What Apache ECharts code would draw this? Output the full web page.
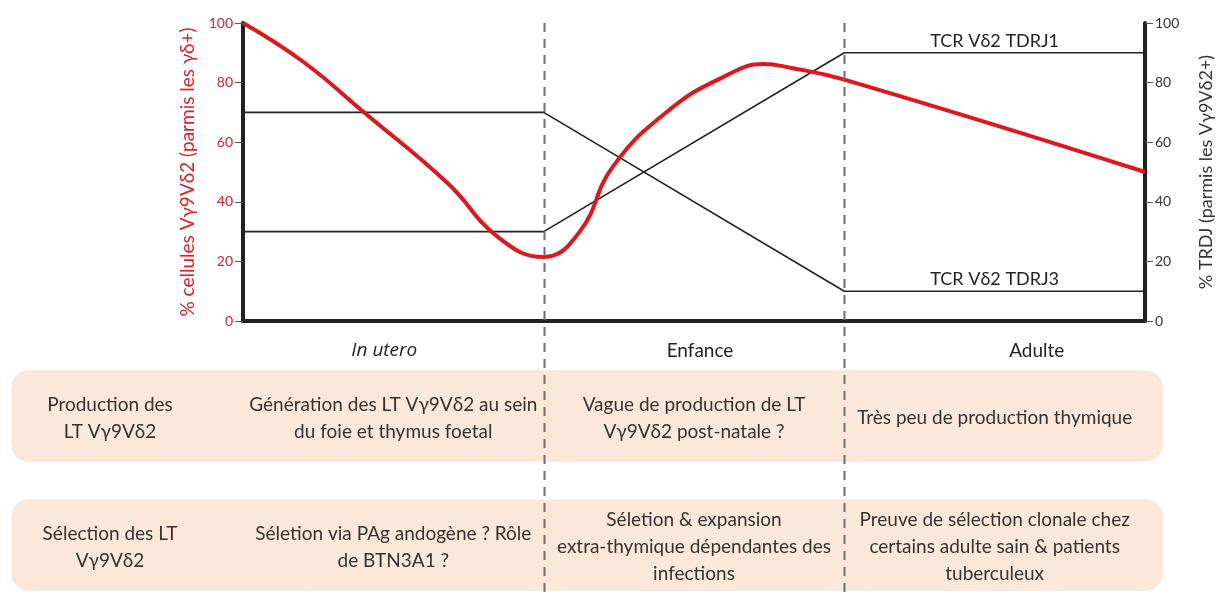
<!DOCTYPE html>
<html>
<head>
<meta charset="utf-8">
<script src="https://cdn.jsdelivr.net/npm/echarts@6/dist/echarts.min.js"></script>
<style>
html,body{margin:0;padding:0;background:#fff;}
#main{width:1223px;height:594px;}
</style>
</head>
<body>
<div id="main"></div>
<script>
// ---- data ----
const periods = ['In utero', 'Enfance', 'Adulte'];
const leftTicks = [0, 20, 40, 60, 80, 100];
const rightTicks = [0, 20, 40, 60, 80, 100];
// red curve: [time position (0..3 across the three periods), % cells]
const redX = [0, 0.2, 0.4, 0.68, 0.85, 1.0, 1.12, 1.23, 1.42, 1.6, 1.73, 1.82, 2.0, 3.0];
const redY = [100, 87, 70.2, 46.3, 28, 21.5, 30, 51.8, 71, 82, 86.2, 85, 81, 50];
const trdjX = [0, 1, 2, 2.5, 3];
const trdj1 = [30, 30, 90, 90, 90];
const trdj3 = [70, 70, 10, 10, 10];
const trdjNames = ['TCR V\u03b42 TDRJ1', 'TCR V\u03b42 TDRJ3'];
const leftAxisName = '% cellules V\u03b39V\u03b42 (parmis les \u03b3\u03b4+)';
const rightAxisName = '% TRDJ (parmis les V\u03b39V\u03b42+)';
const rowTitles = ['Production des\nLT V\u03b39V\u03b42', 'S\u00e9lection des LT\nV\u03b39V\u03b42'];
const rowProduction = [
  'G\u00e9n\u00e9ration des LT V\u03b39V\u03b42 au sein\ndu foie et thymus foetal',
  'Vague de production de LT\nV\u03b39V\u03b42 post-natale ?',
  'Tr\u00e8s peu de production thymique'
];
const rowSelection = [
  'S\u00e9letion via PAg andog\u00e8ne ? R\u00f4le\nde BTN3A1 ?',
  'S\u00e9letion & expansion\nextra-thymique d\u00e9pendantes des\ninfections',
  'Preuve de s\u00e9lection clonale chez\ncertains adulte sain & patients\ntuberculeux'
];

const FONT = 'Lato';
const RED = '#e0161c';
const RED_TXT = '#d8232a';
const DARK = '#222';

const chart = echarts.init(document.getElementById('main'), null, {renderer: 'canvas'});

function pts(xs, ys) { return xs.map((x, i) => [x, ys[i]]); }
function labelled(xs, ys, name) {
  return pts(xs, ys).map((p, i) => i === 3 ?
    {value: p, label: {show: true, position: 'top', distance: 3, formatter: name,
      color: DARK, fontSize: 18, fontFamily: FONT}} : p);
}

const option = {
  animation: false,
  textStyle: {fontFamily: FONT},
  grid: {left: 243, right: 77, top: 23, bottom: 273, containLabel: false},
  xAxis: {
    type: 'value', min: 0, max: 3, interval: 1,
    axisLine: {show: true, onZero: false, lineStyle: {color: DARK, width: 4}},
    axisTick: {show: false}, axisLabel: {show: false}, splitLine: {show: false}
  },
  yAxis: [
    {
      type: 'value', min: 0, max: 100, interval: 20, position: 'left',
      name: leftAxisName, nameLocation: 'middle', nameGap: 45, nameRotate: 90,
      nameTextStyle: {color: RED_TXT, fontSize: 19, fontFamily: FONT},
      axisLine: {show: true, lineStyle: {color: DARK, width: 4}},
      axisTick: {show: true, length: 8, lineStyle: {color: '#555', width: 1}},
      axisLabel: {color: RED_TXT, fontSize: 14, margin: 10, fontFamily: FONT,
        formatter: v => leftTicks.includes(v) ? String(v) : ''},
      splitLine: {show: false}
    },
    {
      type: 'value', min: 0, max: 100, interval: 20, position: 'right',
      name: rightAxisName, nameLocation: 'middle', nameGap: 52, nameRotate: 90,
      nameTextStyle: {color: '#333', fontSize: 18, fontFamily: FONT},
      axisLine: {show: true, lineStyle: {color: DARK, width: 4}},
      axisTick: {show: true, length: 8, lineStyle: {color: '#555', width: 1}},
      axisLabel: {color: '#333', fontSize: 14, margin: 10, fontFamily: FONT,
        formatter: v => rightTicks.includes(v) ? String(v) : ''},
      splitLine: {show: false}
    }
  ],
  series: [
    {
      type: 'line', yAxisIndex: 1, data: labelled(trdjX, trdj1, trdjNames[0]),
      showSymbol: true, symbol: 'circle', symbolSize: 0.01, label: {show: false},
      lineStyle: {color: DARK, width: 1.6}, z: 2
    },
    {
      type: 'line', yAxisIndex: 1, data: labelled(trdjX, trdj3, trdjNames[1]),
      showSymbol: true, symbol: 'circle', symbolSize: 0.01, label: {show: false},
      lineStyle: {color: DARK, width: 1.6}, z: 2
    },
    {
      type: 'line', yAxisIndex: 0, data: pts(redX, redY), smooth: 0.45,
      showSymbol: false, symbol: 'none', lineStyle: {color: RED, width: 4}, z: 3
    }
  ]
};
chart.setOption(option);

// ---- overlay graphics positioned from the axes ----
function px(u) { return chart.convertToPixel({gridIndex: 0}, [u, 0])[0]; }
const yTop = chart.convertToPixel({gridIndex: 0}, [0, 100])[1];
const graphics = [];

// boxes
const boxes = [{y: 371, h: 90}, {y: 500, h: 90}];
boxes.forEach(b => graphics.push({
  type: 'rect', shape: {x: 12, y: b.y, width: 1150, height: b.h, r: 16},
  style: {fill: '#fbe8da', stroke: '#f8e2d2', lineWidth: 1}, z: 1
}));

// dashed separators
[1, 2].forEach(u => {
  const x = Math.round(px(u)) + 0.5;
  graphics.push({type: 'line', shape: {x1: x, y1: yTop, x2: x, y2: 594},
    style: {stroke: '#6e6e6e', lineWidth: 2, lineDash: [9, 7]}, z: 5});
});

// period labels
const periodPos = [0.47, 1.52, 2.64];
periods.forEach((p, i) => graphics.push({
  type: 'text', x: px(periodPos[i]), y: 351,
  style: {text: p, fill: '#222', fontSize: 19, fontFamily: i === 0 ? 'Open Sans' : FONT,
    fontStyle: i === 0 ? 'italic' : 'normal', align: 'center', verticalAlign: 'middle'}, z: 6
}));

// box texts
function boxText(txt, cx, cy) {
  graphics.push({type: 'text', x: cx, y: cy,
    style: {text: txt, fill: '#333', fontSize: 19, fontFamily: FONT, lineHeight: 27,
      align: 'center', verticalAlign: 'middle'}, z: 6});
}
boxText(rowTitles[0], 110, 418);
boxText(rowTitles[1], 110, 547);
rowProduction.forEach((t, i) => boxText(t, px(i + 0.5), 418));
rowSelection.forEach((t, i) => boxText(t, px(i + 0.5), 547));

chart.setOption({graphic: graphics});
</script>
</body>
</html>
